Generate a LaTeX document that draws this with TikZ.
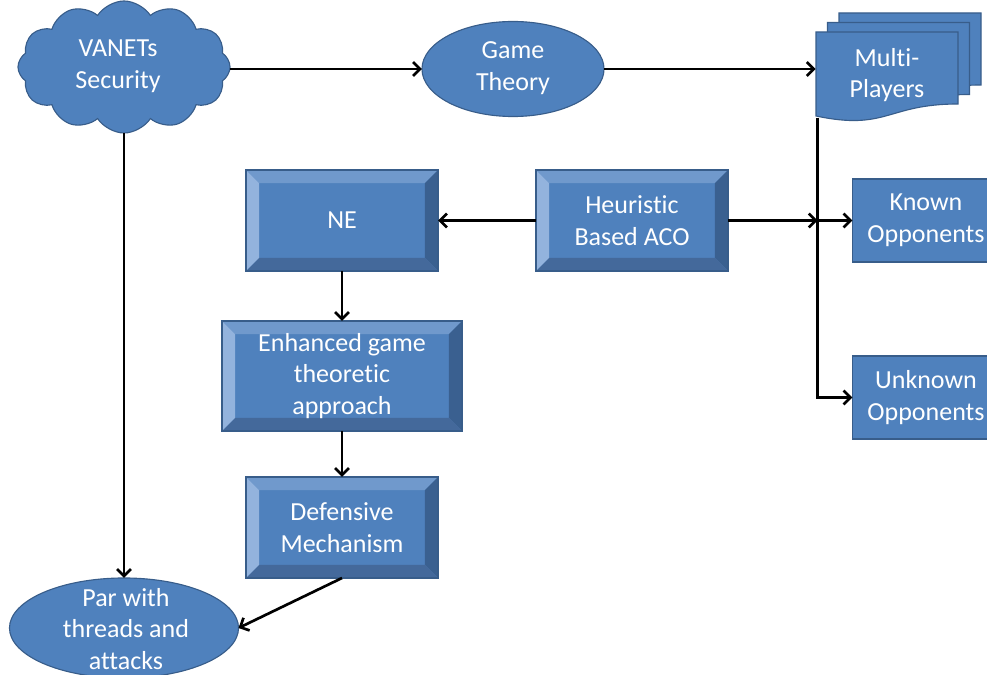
\documentclass[tikz,border=0pt]{standalone}
\usepackage{fontspec}
\setmainfont{Carlito}[Ligatures=NoCommon]
\usetikzlibrary{arrows.meta,shapes.geometric,shapes.symbols}
\definecolor{boxblue}{HTML}{4F81BD}
\definecolor{boxedge}{HTML}{385D8A}
\definecolor{bevtop}{HTML}{7099CC}
\definecolor{bevleft}{HTML}{93B3DD}
\definecolor{bevright}{HTML}{3A6090}
\definecolor{bevbottom}{HTML}{44699B}

\begin{document}
\begin{tikzpicture}[x=0.025cm, y=-0.025cm,
	font=\fontsize{18.5}{22.5}\selectfont,
	arr/.style={-{Straight Barb[length=5pt,width=10pt]}, line width=1.9pt},
	shapetext/.style={text=white, align=center, inner sep=0pt},
	flat/.style={rectangle, fill=boxblue, draw=boxedge, line width=0.8pt, text=white, align=center, outer sep=0pt},
	bevelbox/.style={flat, minimum width=4.8cm, minimum height=2.525cm,
		path picture={
			\coordinate (pa) at (path picture bounding box.north west);
			\coordinate (pb) at (path picture bounding box.north east);
			\coordinate (pc) at (path picture bounding box.south east);
			\coordinate (pd) at (path picture bounding box.south west);
			\coordinate (qa) at ([shift={(0.33cm,-0.33cm)}]pa);
			\coordinate (qb) at ([shift={(-0.33cm,-0.33cm)}]pb);
			\coordinate (qc) at ([shift={(-0.33cm,0.33cm)}]pc);
			\coordinate (qd) at ([shift={(0.33cm,0.33cm)}]pd);
			\fill[bevtop] (pa) -- (pb) -- (qb) -- (qa) -- cycle;
			\fill[bevright] (pb) -- (pc) -- (qc) -- (qb) -- cycle;
			\fill[bevbottom] (pc) -- (pd) -- (qd) -- (qc) -- cycle;
			\fill[bevleft] (pd) -- (pa) -- (qa) -- (qd) -- cycle;
		}},
	oval/.style={ellipse, fill=boxblue, draw=boxedge, line width=0.8pt, outer sep=0pt},
	doc/.style={fill=boxblue, draw=boxedge, line width=0.8pt}]

	\clip (0,0) rectangle (987,675);

	% cloud and ellipses
	\node[cloud, cloud puffs=12, cloud puff arc=115, cloud ignores aspect, fill=boxblue, draw=boxedge, line width=0.8pt,
		minimum width=5.3cm, minimum height=3.3cm, outer sep=0pt] (vanets) at (124,67) {};
	\node[shapetext] (vanetstxt) at (118,66) {VANETs\\Security};

	\node[oval, minimum width=4.55cm, minimum height=2.375cm] (game) at (513,69) {};
	\node[shapetext] (gametxt) at (513,68) {Game\\Theory};

	\node[oval, minimum width=5.725cm, minimum height=2.5cm] (par) at (124,628) {};
	\node[shapetext] (partxt) at (126,629) {Par with\\threads and\\attacks};

	% stacked documents
	\foreach \k in {2,1,0}
		\draw[doc, shift={(\k*11.5,-\k*9.5)}] (816,32) -- (958,32) -- (958,104) .. controls (887,104) and (887,131) .. (816,116) -- cycle;
	\node[shapetext, minimum width=3.55cm, minimum height=2.125cm] (multi) at (887,75) {Multi-\\Players};

	% boxes
	\node[bevelbox] (ne) at (342,220.5) {NE};
	\node[bevelbox] (aco) at (632,220.5) {Heuristic\\Based ACO};
	\node[bevelbox, minimum width=6cm, minimum height=2.75cm] (enh) at (342,376) {Enhanced game\\theoretic\\approach};
	\node[bevelbox] (def) at (342,527.5) {Defensive\\Mechanism};

	\node[flat, minimum width=3.675cm, minimum height=2.075cm] (known) at (926,220.5) {Known\\Opponents};
	\node[flat, minimum width=3.675cm, minimum height=2.075cm] (unknown) at (926,397.5) {Unknown\\Opponents};

	% connectors
	\coordinate (bus) at ([xshift=0.05cm]multi.south west);

	\draw[arr] (vanets.east |- game) -- (game.west);
	\draw[arr] (game.east) -- (multi.west |- game.east);
	\draw[arr] (vanets.south) -- (par.north);
	\draw[arr] (aco.west) -- (ne.east);
	\draw[arr] (aco.east) -- (bus |- aco.east);
	\draw[arr] (bus |- aco.east) -- (known.west);
	\draw[arr] (bus) |- (unknown.west);
	\draw[arr] (ne.south) -- (enh.north);
	\draw[arr] (enh.south) -- (def.north);
	\draw[arr] (def.south) -- (par.east);
\end{tikzpicture}
\end{document}
